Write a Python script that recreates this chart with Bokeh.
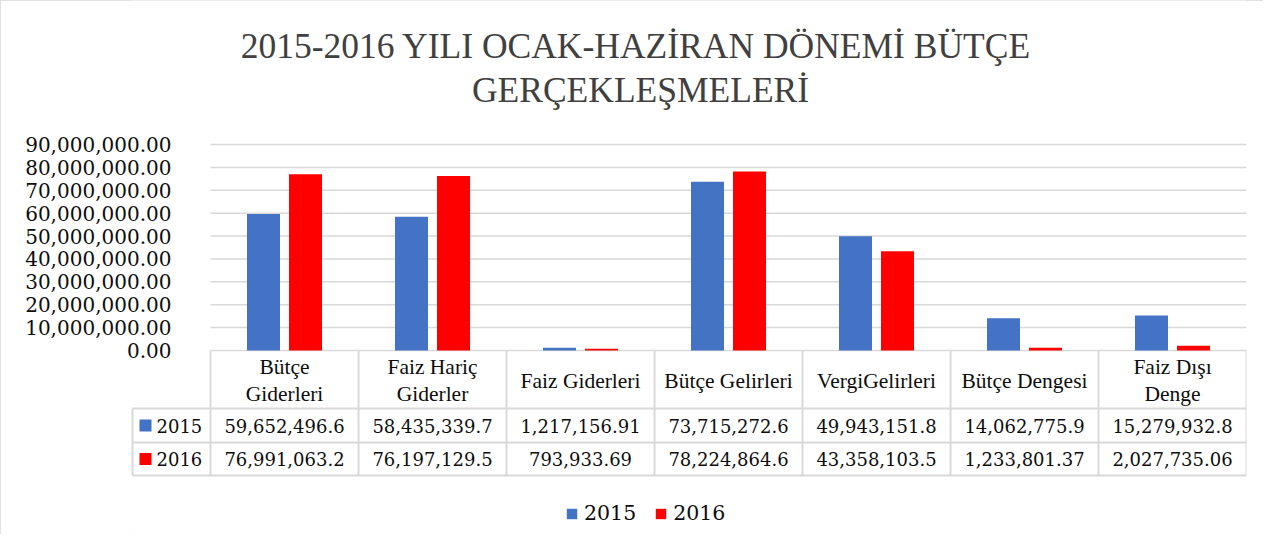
import numpy as np
from bokeh.plotting import figure
from bokeh.models import (Range1d, FixedTicker, NumeralTickFormatter, Label,
                          Legend, LegendItem, ColumnDataSource)
from bokeh.core.properties import value
from bokeh.embed import file_html
from bokeh.resources import INLINE

# ---------------- data ----------------
title_lines = ["2015-2016 YILI  OCAK-HAZİRAN DÖNEMİ BÜTÇE", "GERÇEKLEŞMELERİ"]
categories = ["Bütçe\nGiderleri", "Faiz Hariç\nGiderler", "Faiz Giderleri",
              "Bütçe Gelirleri", "VergiGelirleri", "Bütçe Dengesi", "Faiz Dışı\nDenge"]
series_names = ["2015", "2016"]
values_2015 = [59652496.6, 58435339.7, 1217156.91, 73715272.6, 49943151.8, 14062775.9, 15279932.8]
values_2016 = [76991063.2, 76197129.5, 793933.69, 78224864.6, 43358103.5, 1233801.37, 2027735.06]
y_ticks = [0, 10000000, 20000000, 30000000, 40000000, 50000000, 60000000, 70000000, 80000000, 90000000]
series_colors = ["#4472C4", "#FF0000"]

# ---------------- layout constants (pixels) ----------------
FIG_W, FIG_H = 1263, 534
FRAME_L, FRAME_R = 130, 1246          # frame edges in figure px
CAT_PX = 148.0                        # width of one category column
DATA_L = 210                          # figure x of the first category edge
ZERO_PX, TOP_PX = 350, 144            # figure y of value 0 and of top tick
HDR_BOTTOM, ROW1_BOTTOM, ROW2_BOTTOM = 408, 442, 475
TBL_LEFT_PX = 132
HDR_MID = 380
ROW_MID = [425, 458.5]
GRID_COLOR = "#d9d9d9"
TEXT_COLOR = "#0d0d0d"
NUM_FONT = "DejaVu Serif"
WORD_FONT = "Liberation Serif"

n = len(categories)
ymax = y_ticks[-1]
s = ymax / (ZERO_PX - TOP_PX)
y_start = -(FIG_H - ZERO_PX) * s
y_end = ZERO_PX * s
x_start = -(DATA_L - FRAME_L) / CAT_PX

def px_to_x(px):
    return (px - DATA_L) / CAT_PX

p = figure(width=FIG_W, height=FIG_H, output_backend="svg", toolbar_location=None,
           x_range=Range1d(x_start, n), y_range=Range1d(y_start, y_end),
           x_axis_type=None, min_border_left=FRAME_L, min_border_right=FIG_W - FRAME_R,
           min_border_top=0, min_border_bottom=0)
p.extra_y_ranges = {"px": Range1d(start=FIG_H, end=0)}
p.outline_line_color = None
p.grid.visible = False
p.background_fill_color = "white"
p.border_fill_color = "white"
p.styles = {"outline": "2px solid #d9d9d9", "outline-offset": "-2px"}

# y axis
ax = p.yaxis[0]
ax.ticker = FixedTicker(ticks=y_ticks)
ax.formatter = NumeralTickFormatter(format="0,0.00")
ax.axis_line_color = None
ax.major_tick_line_color = None
ax.minor_tick_line_color = None
ax.major_tick_out = 0
ax.major_tick_in = 0
ax.major_label_standoff = -41
ax.major_label_text_font = NUM_FONT
ax.major_label_text_font_size = "20px"
ax.major_label_text_color = TEXT_COLOR

# gridlines
p.segment(x0=[0] * len(y_ticks), x1=[n] * len(y_ticks), y0=y_ticks, y1=y_ticks,
          line_color=GRID_COLOR, line_width=1.5)

# bars
idx = np.arange(n) + 0.5
offset = 0.142
bw = 0.223
src = ColumnDataSource(dict(x1=idx - offset, x2=idx + offset, v1=values_2015, v2=values_2016))
r1 = p.vbar(x="x1", top="v1", bottom=0, width=bw, source=src, fill_color=series_colors[0], line_color=None)
r2 = p.vbar(x="x2", top="v2", bottom=0, width=bw, source=src, fill_color=series_colors[1], line_color=None)

# data table lines
tl = px_to_x(TBL_LEFT_PX)
p.segment(x0=[tl, tl, tl], x1=[n, n, n], y0=[HDR_BOTTOM, ROW1_BOTTOM, ROW2_BOTTOM],
          y1=[HDR_BOTTOM, ROW1_BOTTOM, ROW2_BOTTOM], y_range_name="px",
          line_color=GRID_COLOR, line_width=2)
edges = list(range(n + 1))
p.segment(x0=edges, x1=edges, y0=[ZERO_PX] * len(edges), y1=[ROW2_BOTTOM] * len(edges),
          y_range_name="px", line_color=GRID_COLOR, line_width=2)
p.segment(x0=[tl], x1=[tl], y0=[HDR_BOTTOM], y1=[ROW2_BOTTOM], y_range_name="px",
          line_color=GRID_COLOR, line_width=2)

# header texts
p.text(x=idx, y=[HDR_MID] * n, text=categories, y_range_name="px",
       text_align="center", text_baseline="middle", text_font=value(WORD_FONT),
       text_font_size="21.5px", text_color=TEXT_COLOR, text_line_height=1.1)

def fmt(v):
    d = len(str(int(abs(v))))
    dec = max(0, min(2, 9 - d))
    return f"{v:,.{dec}f}"

for k, vals in enumerate([values_2015, values_2016]):
    p.text(x=idx, y=[ROW_MID[k]] * n, text=[fmt(v) for v in vals], y_range_name="px",
           text_align="center", text_baseline="middle", text_font=value(NUM_FONT),
           text_font_size="18px", text_color=TEXT_COLOR)
    p.scatter(x=[px_to_x(145)], y=[ROW_MID[k]], marker="square", size=12,
              fill_color=series_colors[k], line_color=None, y_range_name="px")
    p.text(x=[px_to_x(156)], y=[ROW_MID[k]], text=[series_names[k]], y_range_name="px",
           text_align="left", text_baseline="middle", text_font=value(NUM_FONT),
           text_font_size="18px", text_color=TEXT_COLOR)

# title
cx = 640 - FRAME_L
for line, ty in zip(title_lines, [45, 89]):
    p.add_layout(Label(x=cx, y=FIG_H - ty, x_units="screen", y_units="screen", text=line,
                       text_align="center", text_baseline="middle",
                       text_font=WORD_FONT, text_font_size="35.5px", text_color="#404040"))

# bottom legend
legend = Legend(items=[LegendItem(label=series_names[0], renderers=[r1]),
                       LegendItem(label=series_names[1], renderers=[r2])],
                orientation="horizontal", location=(565 - FRAME_L, 9),
                glyph_width=13, glyph_height=13, label_standoff=6, spacing=18,
                padding=0, margin=0, border_line_color=None, background_fill_alpha=0,
                label_text_font=NUM_FONT, label_text_font_size="20.5px",
                label_text_color=TEXT_COLOR)
p.add_layout(legend)

open("out.html", "w").write(file_html(p, INLINE))
